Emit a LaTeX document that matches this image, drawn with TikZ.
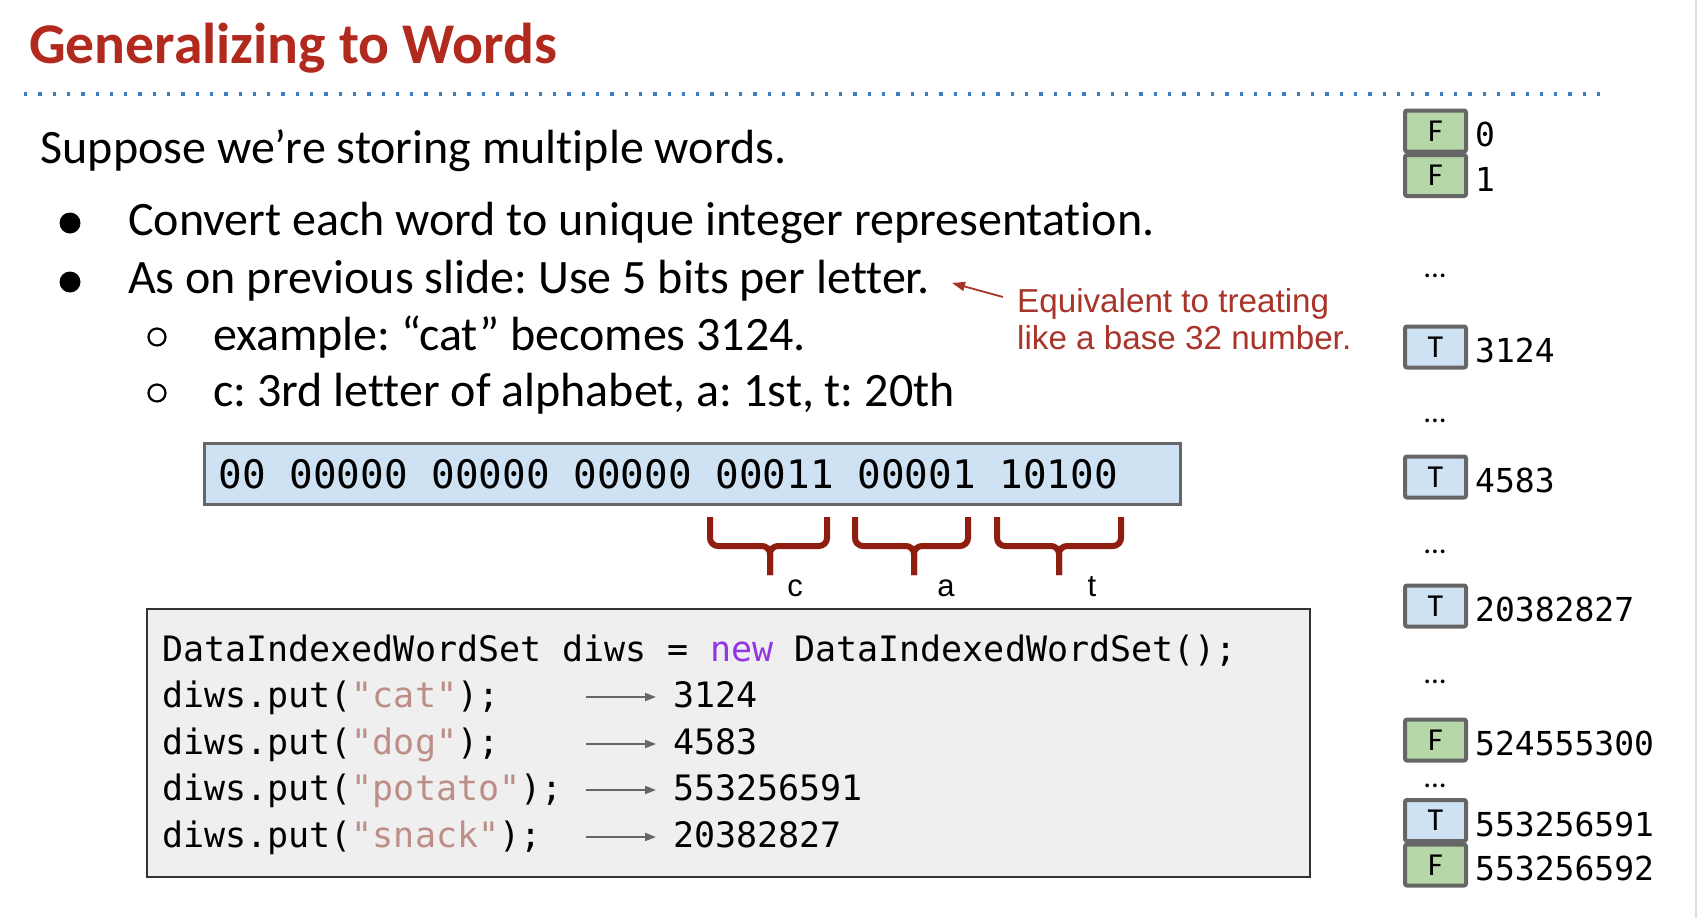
\documentclass[tikz,border=0pt]{standalone}
\usepackage{fontspec}
\setmainfont{Carlito}[Ligatures={NoCommon}]
\newfontfamily\codefont{DejaVu Sans Mono}
\newfontfamily\notefont{Liberation Sans}
\usetikzlibrary{arrows.meta}
\frenchspacing

\definecolor{titlered}{HTML}{B2291E}
\definecolor{notered}{HTML}{A8342A}
\definecolor{bracered}{HTML}{8F1E10}
\definecolor{rulblue}{HTML}{3D7FC4}
\definecolor{bitfill}{HTML}{CFE2F3}
\definecolor{cellgreen}{HTML}{B6D7A8}
\definecolor{cellblue}{HTML}{CFE2F3}
\definecolor{cellgray}{HTML}{666666}
\definecolor{codefill}{HTML}{EFEFEF}
\definecolor{strcol}{HTML}{BC8E87}
\definecolor{kwcol}{HTML}{9334E6}

\tikzset{
  txt/.style={inner sep=0pt, anchor=base west},
  titletext/.style={txt, font=\fontsize{57.6}{60}\selectfont\bfseries, text=titlered},
  bodytext/.style={txt, font=\fontsize{48}{56}\selectfont},
  notetext/.style={txt, font=\notefont\fontsize{33.2}{37}\selectfont, text=notered},
  bigdot/.style={circle, fill=black, inner sep=0pt, minimum size=21pt},
  ringdot/.style={circle, draw=black, line width=2.2pt, inner sep=0pt, minimum size=17pt},
  bitbox/.style={draw=cellgray, fill=bitfill, line width=3pt, inner sep=0pt,
    minimum width=976pt, minimum height=61pt},
  bittext/.style={txt, font=\codefont\fontsize{39.3}{40}\selectfont},
  bracepath/.style={draw=bracered, line width=6pt, rounded corners=8pt},
  bracelabel/.style={inner sep=0pt, anchor=base, font=\notefont\fontsize{31}{31}\selectfont},
  codebox/.style={draw=black!80, fill=codefill, line width=2pt, inner sep=0pt,
    minimum width=1163pt, minimum height=268pt},
  codetext/.style={txt, font=\codefont\fontsize{35}{40}\selectfont},
  codearrow/.style={draw=cellgray, line width=2pt, -{Triangle[length=11pt,width=8pt]}},
  notearrow/.style={draw=notered, line width=1.8pt, -{Triangle[length=13pt,width=9pt]}},
  cell/.style={draw=cellgray, line width=4pt, rounded corners=2pt, inner sep=0pt,
    minimum width=61pt, minimum height=41pt, font=\fontsize{32}{32}\selectfont},
  fcell/.style={cell, fill=cellgreen},
  tcell/.style={cell, fill=cellblue},
  idx/.style={txt, font=\codefont\fontsize{33}{33}\selectfont},
  gap/.style={inner sep=0pt, anchor=base, font=\fontsize{31}{31}\selectfont},
}

\begin{document}
\begin{tikzpicture}[x=1pt, y=-1pt]
  \useasboundingbox (0,0) rectangle (1698,918);
  \fill[white] (0,0) rectangle (1698,918);
  % slide edge
  \draw[black!12, line width=2pt] (1696,0) -- (1696,918);

  % heading and dotted rule
  \node[titletext] (title) at (29,63) {Generalizing to Words};
  \coordinate (ruleL) at (24,94);
  \coordinate (ruleR) at (1603,94);
  \draw[rulblue, line width=3.3pt, dash pattern=on 3.3pt off 11pt] (ruleL) -- (ruleR);

  % body text
  \node[bodytext] (intro) at (40.5,163) {Suppose we’re storing multiple words.};
  \node[bigdot] (b1) at (70,223) {};
  \node[bodytext] (line1) at (128,235) {Convert each word to unique integer representation.};
  \node[bigdot] (b2) at (70,282) {};
  \node[bodytext] (line2) at (128,293) {As on previous slide: Use 5 bits per letter.};
  \node[ringdot] (r1) at (157,337) {};
  \node[bodytext] (line3) at (213,350) {example: “cat” becomes 3124.};
  \node[ringdot] (r2) at (157,393) {};
  \node[bodytext] (line4) at (213,406) {c: 3rd letter of alphabet, a: 1st, t: 20th};

  % side note
  \node[notetext] (note1) at (1017,312) {Equivalent to treating};
  \node[notetext] (note2) at (1017,349) {like a base 32 number.};
  \coordinate (atail) at (1003,297);
  \coordinate (atip) at (952,283);
  \draw[notearrow] (atail) -- (atip);

  % bit pattern
  \node[bitbox] (bits) at (692.5,474) {};
  \node[bittext] (bitstr) at (218.5,488) {00 00000 00000 00000 00011 00001 10100};

  % braces under the letter groups
  \draw[bracepath] (710,517) -- (710,546) -- (770,546) -- (770,575);
  \draw[bracepath] (827,517) -- (827,546) -- (770,546) -- (770,575);
  \draw[bracepath] (855,517) -- (855,546) -- (914,546) -- (914,575);
  \draw[bracepath] (968,517) -- (968,546) -- (914,546) -- (914,575);
  \draw[bracepath] (997,517) -- (997,546) -- (1059,546) -- (1059,575);
  \draw[bracepath] (1121,517) -- (1121,546) -- (1059,546) -- (1059,575);
  \node[bracelabel] (lc) at (795,596) {c};
  \node[bracelabel] (la) at (946,596) {a};
  \node[bracelabel] (lt) at (1092,596) {t};

  % code listing
  \node[codebox] (code) at (728.5,743) {};
  \node[codetext] (c1) at (162,661) {DataIndexedWordSet diws = \textcolor{kwcol}{new} DataIndexedWordSet();};
  \node[codetext] (c2) at (162,707) {diws.put(\textcolor{strcol}{"cat"});};
  \node[codetext] (c3) at (162,754) {diws.put(\textcolor{strcol}{"dog"});};
  \node[codetext] (c4) at (162,800) {diws.put(\textcolor{strcol}{"potato"});};
  \node[codetext] (c5) at (162,847) {diws.put(\textcolor{strcol}{"snack"});};
  \node[codetext] (n2) at (673,707) {3124};
  \node[codetext] (n3) at (673,754) {4583};
  \node[codetext] (n4) at (673,800) {553256591};
  \node[codetext] (n5) at (673,847) {20382827};
  \coordinate (s2) at (586,697);
  \coordinate (s3) at (586,744);
  \coordinate (s4) at (586,790);
  \coordinate (s5) at (586,837);
  \draw[codearrow, shorten >=17pt] (s2) -- (s2 -| n2.west);
  \draw[codearrow, shorten >=17pt] (s3) -- (s3 -| n3.west);
  \draw[codearrow, shorten >=17pt] (s4) -- (s4 -| n4.west);
  \draw[codearrow, shorten >=17pt] (s5) -- (s5 -| n5.west);

  % membership array
  \node[fcell] (k0) at (1435.5,131) {F};
  \node[fcell] (k1) at (1435.5,175.5) {F};
  \node[tcell] (k3124) at (1435.5,347) {T};
  \node[tcell] (k4583) at (1435.5,477) {T};
  \node[tcell] (ksnack) at (1435.5,606) {T};
  \node[fcell] (kbig) at (1435.5,740) {F};
  \node[tcell] (kpotato) at (1435.5,820.5) {T};
  \node[fcell] (knext) at (1435.5,865) {F};
  \node[idx] at ([xshift=7pt,yshift=-15.5pt]k0.east) (i0) {0};
  \node[idx] at ([xshift=7pt,yshift=-15.5pt]k1.east) (i1) {1};
  \node[idx] at ([xshift=7pt,yshift=-15.5pt]k3124.east) (i3124) {3124};
  \node[idx] at ([xshift=7pt,yshift=-15.5pt]k4583.east) (i4583) {4583};
  \node[idx] at ([xshift=7pt,yshift=-15.5pt]ksnack.east) (isnack) {20382827};
  \node[idx] at ([xshift=7pt,yshift=-15.5pt]kbig.east) (ibig) {524555300};
  \node[idx] at ([xshift=7pt,yshift=-15.5pt]kpotato.east) (ipotato) {553256591};
  \node[idx] at ([xshift=7pt,yshift=-15.5pt]knext.east) (inext) {553256592};
  \node[gap] (g1) at (1435,277) {...};
  \node[gap] (g2) at (1435,422) {...};
  \node[gap] (g3) at (1435,553) {...};
  \node[gap] (g4) at (1435,683) {...};
  \node[gap] (g5) at (1435,787) {...};
\end{tikzpicture}
\end{document}
